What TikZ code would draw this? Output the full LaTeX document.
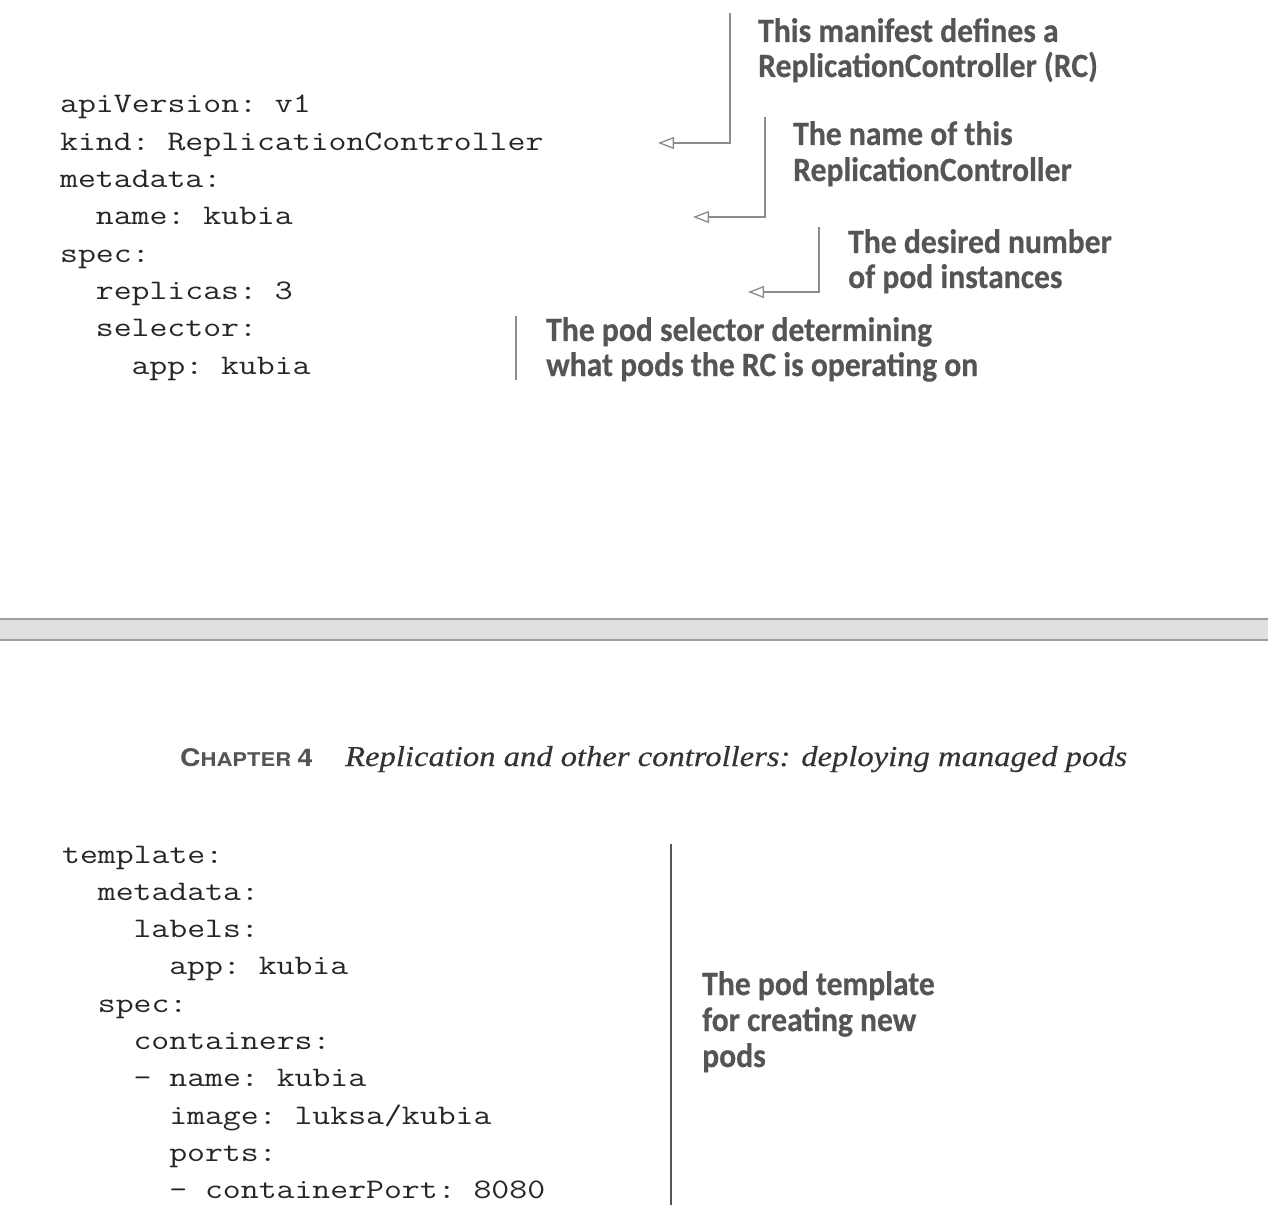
\documentclass[tikz,border=0pt]{standalone}
\usepackage{fontspec}
\newfontfamily\codefont[FakeStretch=1.228]{Latin Modern Mono}
\newfontfamily\annfont[FakeStretch=0.93,FakeBold=0.4]{Carlito}
\newfontfamily\headsans{TeX Gyre Heros}
\newfontfamily\headserif[FakeBold=0.3]{Liberation Serif}
\usetikzlibrary{arrows.meta}
\definecolor{anntext}{HTML}{555555}
\definecolor{leader}{HTML}{8C8C8C}
\definecolor{darkbar}{HTML}{555555}
\definecolor{codetext}{HTML}{262626}
\definecolor{barfill}{HTML}{E0E0E0}
\definecolor{barline}{HTML}{9E9E9E}
\tikzset{
  code/.style={anchor=base west, inner sep=0pt, font=\codefont\frenchspacing\fontsize{28.3}{37.3}\selectfont, text=codetext},
  ann/.style={anchor=base west, inner sep=0pt, font=\annfont\bfseries\fontsize{34}{35}\selectfont, text=anntext},
  leaderline/.style={draw=leader, line width=1.3pt, -{Triangle[open,length=16pt,width=12pt]}},
  bracketline/.style={draw=leader, line width=1.3pt},
  headtext/.style={anchor=base west, inner sep=0pt},
}
\begin{document}
\begin{tikzpicture}[x=1pt,y=-1pt]
\useasboundingbox (0,0) rectangle (1268,1230);
\fill[white] (0,0) rectangle (1268,1230);

% ---- top code ----
\node[code] (l1) at (60,113)    {apiVersion: v1};
\node[code] (l2) at (60,150.3)  {kind: ReplicationController};
\node[code] (l3) at (60,187.6)  {metadata:};
\node[code] (l4) at (95.7,224.9){name: kubia};
\node[code] (l5) at (60,262.2)  {spec:};
\node[code] (l6) at (95.7,299.5){replicas: 3};
\node[code] (l7) at (95.7,336.8){selector:};
\node[code] (l8) at (131.4,374.1){app: kubia};

% ---- top annotations ----
\node[ann] (n1a) at (758,42)  {This manifest defines a};
\node[ann] (n1b) at (758,77)  {ReplicationController (RC)};
\node[ann] (n2a) at (793,145) {The name of this};
\node[ann] (n2b) at (793,181) {ReplicationController};
\node[ann] (n3a) at (848,253) {The desired number};
\node[ann] (n3b) at (848,288) {of pod instances};
\node[ann] (n4a) at (546,341) {The pod selector determining};
\node[ann] (n4b) at (546,376) {what pods the RC is operating on};

\coordinate (b1top) at (730,13);  \coordinate (b1bot) at (730,143); \coordinate (t1) at (658,143);
\coordinate (b2top) at (765,117); \coordinate (b2bot) at (765,217); \coordinate (t2) at (693,217);
\coordinate (b3top) at (819,227); \coordinate (b3bot) at (819,292); \coordinate (t3) at (748,292);
\coordinate (b4top) at (516,316); \coordinate (b4bot) at (516,380);

\draw[leaderline] (b1top) -- (b1bot) -- (t1);
\draw[leaderline] (b2top) -- (b2bot) -- (t2);
\draw[leaderline] (b3top) -- (b3bot) -- (t3);
\draw[bracketline] (b4top) -- (b4bot);

% ---- separator bar ----
\fill[barfill] (-5,618) rectangle (1273,641);
\draw[barline, line width=2pt] (-5,619) -- (1273,619);
\draw[barline, line width=2pt] (-5,640) -- (1273,640);

% ---- chapter header ----
\node[headtext, text=anntext] (chap) at (180,766)
  {\resizebox{133pt}{18pt}{\headsans\bfseries\fontsize{25}{25}\selectfont C\fontsize{19.5}{20}\selectfont HAPTER \fontsize{25}{25}\selectfont 4}};
\node[headtext, text=black!80] (title) at (345,766)
  {\resizebox{782pt}{20pt}{\headserif\itshape\fontsize{28}{30}\selectfont Replication and other controllers: deploying managed pods}};

% ---- bottom code ----
\node[code] (m1)  at (62,863)     {template:};
\node[code] (m2)  at (97.7,900.3) {metadata:};
\node[code] (m3)  at (133.4,937.6){labels:};
\node[code] (m4)  at (169.1,974.9){app: kubia};
\node[code] (m5)  at (97.7,1012.2){spec:};
\node[code] (m6)  at (133.4,1049.5){containers:};
\node[code] (m7)  at (133.4,1086.8){- name: kubia};
\node[code] (m8)  at (169.1,1124.1){image: luksa/kubia};
\node[code] (m9)  at (169.1,1161.4){ports:};
\node[code] (m10) at (169.1,1198.7){- containerPort: 8080};

% ---- bottom annotation ----
\coordinate (b5top) at (671,844); \coordinate (b5bot) at (671,1205);
\draw[draw=darkbar, line width=1.5pt] (b5top) -- (b5bot);
\node[ann] (n5a) at (702,995)  {The pod template};
\node[ann] (n5b) at (702,1031) {for creating new};
\node[ann] (n5c) at (702,1067) {pods};
\end{tikzpicture}
\end{document}
